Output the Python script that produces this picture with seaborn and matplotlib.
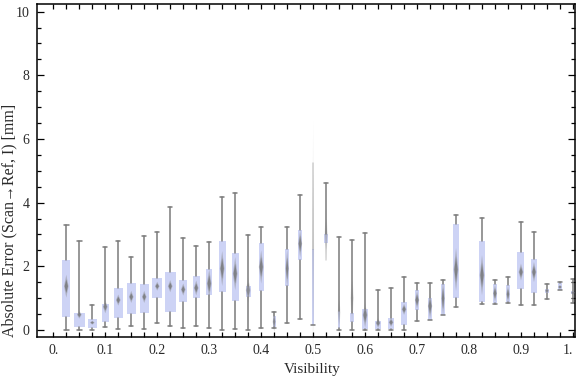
import numpy as np
import matplotlib
matplotlib.use("Agg")
import matplotlib.pyplot as plt
import seaborn as sns

# visibility bins (0.8 has no data)
visibility = [0.025, 0.05, 0.075, 0.1, 0.125, 0.15, 0.175, 0.2, 0.225, 0.25,
              0.275, 0.3, 0.325, 0.35, 0.375, 0.4, 0.425, 0.45, 0.475, 0.5,
              0.525, 0.55, 0.575, 0.6, 0.625, 0.65, 0.675, 0.7, 0.725, 0.75,
              0.775, 0.825, 0.85, 0.875, 0.9, 0.925, 0.95, 0.975, 1.0]
whis_lo = [0.0, 0.0, 0.0, 0.08, 0.02, 0.125, 0.02, 0.21, 0.125, 0.05,
           0.125, 0.05, 0.0, 0.02, 0.0, 0.05, 0.05, 0.21, 0.33, 0.16,
           2.20, 0.0, 0.0, 0.0, 0.0, 0.0, 0.0, 0.27, 0.31, 0.48,
           0.71, 0.83, 0.83, 0.86, 0.77, 0.80, 0.96, 1.25, 0.86]
q1 = [0.42, 0.10, 0.07, 0.26, 0.39, 0.51, 0.54, 1.01, 0.56, 0.89,
      1.01, 1.10, 1.20, 0.92, 1.04, 1.23, 0.09, 1.37, 2.20, 0.15,
      2.74, 0.07, 0.26, 0.04, 0.03, 0.03, 0.16, 0.625, 0.31, 0.48,
      0.99, 0.89, 0.85, 0.89, 1.29, 1.17, 1.17, 1.25, 1.13]
median = [1.375, 0.48, 0.23, 0.73, 0.94, 1.04, 1.04, 1.375, 1.375, 1.27,
          1.32, 1.46, 1.93, 1.77, 1.25, 1.98, 0.26, 1.93, 2.71, 2.5,
          3.0, 0.55, 1.0, 0.47, 0.22, 0.24, 0.65, 0.94, 0.75, 0.99,
          1.90, 1.72, 1.15, 1.125, 1.82, 1.82, 1.23, 1.35, 1.17]
q3 = [2.19, 0.52, 0.34, 0.81, 1.31, 1.47, 1.43, 1.62, 1.81, 1.56,
      1.69, 1.91, 2.81, 2.41, 1.39, 2.72, 0.44, 2.53, 3.125, 2.55,
      3.03, 0.59, 0.54, 0.66, 0.29, 0.39, 0.875, 1.25, 1.0, 1.44,
      3.33, 2.78, 1.43, 1.40, 2.44, 2.22, 1.29, 1.47, 1.23]
whis_hi = [3.30, 2.80, 0.80, 2.61, 2.78, 2.30, 2.96, 3.08, 3.875, 2.90,
           2.65, 2.77, 4.18, 4.30, 2.99, 3.24, 0.57, 3.24, 4.24, 5.26,
           4.61, 2.93, 2.84, 3.05, 1.25, 1.33, 1.65, 1.49, 1.49, 1.58,
           3.625, 3.52, 1.58, 1.67, 3.40, 3.08, 1.43, 1.52, 1.61]
# box widths and median-diamond heights (data units)
box_w = [0.016, 0.022, 0.017, 0.014, 0.017, 0.017, 0.017, 0.019, 0.021, 0.015,
         0.014, 0.011, 0.0135, 0.0135, 0.0097, 0.0097, 0.0058, 0.0064, 0.0077, 0.0039,
         0.0064, 0.0052, 0.0064, 0.011, 0.0116, 0.011, 0.0129, 0.0083, 0.0083, 0.0064,
         0.0102, 0.0097, 0.0077, 0.0064, 0.0135, 0.0129, 0.0077, 0.0077, 0.0077]
diamond_h = [0.72, 0.25, 0.13, 0.41, 0.35, 0.38, 0.38, 0.28, 0.38, 0.38,
             0.47, 0.88, 1.10, 1.04, 0.79, 1.04, 0.63, 1.16, 0.85, 8.2,
             1.62, 1.26, 1.79, 0.79, 0.31, 0.28, 0.35, 0.57, 0.79, 1.10,
             1.35, 1.26, 0.53, 0.53, 0.53, 0.63, 0.16, 0.13, 0.16]
diamond_alpha = [0.9] * 14 + [0.75, 0.9, 0.8, 0.9, 0.9, 0.22,
                              0.35, 0.4, 0.35] + [0.9] * 16

sns.set_theme(style="ticks")
plt.rcParams['font.family'] = ['Liberation Serif', 'DejaVu Serif']

fig = plt.figure(figsize=(5.76, 3.77), dpi=100)
ax = fig.add_axes([0.0637, 0.1053, 0.9346, 0.8841])

stats = [dict(med=m, q1=a, q3=b, whislo=lo, whishi=hi)
         for m, a, b, lo, hi in zip(median, q1, q3, whis_lo, whis_hi)]
parts = ax.bxp(stats, positions=visibility, widths=box_w, showfliers=False,
               patch_artist=True, manage_ticks=False, capwidths=0.0085,
               boxprops=dict(facecolor='#cdd3f5', edgecolor='none', linewidth=0),
               whiskerprops=dict(color='#7a7a7a', linewidth=1.1),
               capprops=dict(color='#7a7a7a', linewidth=1.1),
               medianprops=dict(linewidth=0))

# faint whiskers at 0.5 (upper) and 0.525 (lower)
i5 = visibility.index(0.5)
parts['whiskers'][2 * i5 + 1].set_alpha(0.35)
parts['caps'][2 * i5 + 1].set_alpha(0.0)
i6 = visibility.index(0.525)
parts['whiskers'][2 * i6].set_alpha(0.3)
parts['caps'][2 * i6].set_alpha(0.0)

# blurred diamond medians
for x, m, h, w, a in zip(visibility, median, diamond_h, box_w, diamond_alpha):
    hw = min(0.0045, w * 0.5)
    hh = h / 2
    ax.fill([x - hw, x, x + hw, x], [m, m + hh, m, m - hh],
            color='#8a8a8a', alpha=a * 0.5, lw=0, zorder=3, clip_on=False)
    ax.fill([x - hw * 0.7, x, x + hw * 0.7, x], [m, m + hh * 0.6, m, m - hh * 0.6],
            color='#6e6e6e', alpha=a * 0.8, lw=0, zorder=3, clip_on=False)

ax.set_xlim(-0.032, 1.004)
ax.set_ylim(-0.23, 10.24)
ax.set_xticks(np.arange(0, 1.01, 0.1))
ax.set_xticklabels(["0.", "0.1", "0.2", "0.3", "0.4", "0.5", "0.6", "0.7", "0.8", "0.9", "1."])
ax.set_xticks(np.arange(0, 1.001, 0.025), minor=True)
ax.set_yticks(np.arange(0, 11, 2))
ax.set_yticklabels(["0", "2", "4", "6", "8", "10"])
ax.set_yticks(np.arange(0, 10.01, 0.5), minor=True)
ax.tick_params(which='both', direction='in', top=True, right=True,
               labelsize=10, labelcolor='#2a2a2a', color='black', width=0.9, pad=5)
ax.tick_params(axis='y', which='major', length=5)
ax.tick_params(axis='y', which='minor', length=2.7)
ax.tick_params(axis='x', which='both', length=3.3)
ax.get_xticklabels()[-1].set_horizontalalignment('right')
for s in ax.spines.values():
    s.set_color('black')
    s.set_linewidth(1.1)

ax.set_xlabel("Visibility", fontsize=11, color='#2a2a2a')
ax.set_ylabel("Absolute Error (Scan\u2192Ref, I) [mm]", fontsize=11.5, color='#2a2a2a')
ax.xaxis.set_label_coords(0.511, -0.078)
ax.yaxis.set_label_coords(-0.036, 0.35)

fig.savefig("out.png", dpi=100)
